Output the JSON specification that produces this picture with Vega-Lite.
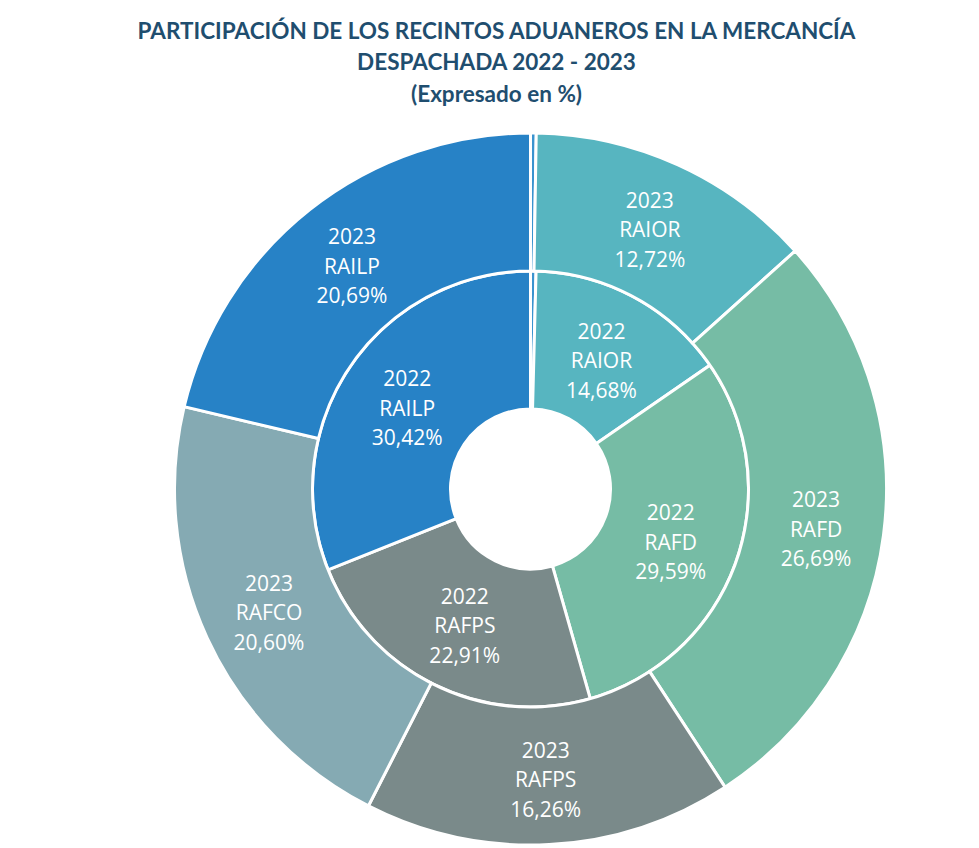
{
  "$schema": "https://vega.github.io/schema/vega-lite/v6.json",
  "width": 897,
  "height": 718,
  "autosize": {"type": "none"},
  "padding": {"left": 82, "top": 130, "right": 0, "bottom": 0},
  "background": "white",
  "title": {
    "text": ["PARTICIPACIÓN DE LOS RECINTOS ADUANEROS EN LA MERCANCÍA", "DESPACHADA 2022 - 2023", "(Expresado en %)"],
    "font": "Lato",
    "fontSize": 22.5,
    "fontWeight": "bold",
    "color": "#1f4e6f",
    "lineHeight": 31.5,
    "anchor": "middle",
    "dx": -34,
    "offset": 21
  },
  "config": {"view": {"stroke": null}},
  "data": {
    "values": [
      {"ring": "2022", "name": "Otros", "value": 0.4, "ord": 0},
      {"ring": "2022", "name": "RAIOR", "value": 14.68, "ord": 1},
      {"ring": "2022", "name": "RAFD", "value": 29.59, "ord": 2},
      {"ring": "2022", "name": "RAFPS", "value": 22.91, "ord": 3},
      {"ring": "2022", "name": "RAILP", "value": 30.42, "ord": 5},
      {"ring": "2023", "name": "Otros", "value": 0.25, "ord": 0},
      {"ring": "2023", "name": "RAIOR", "value": 12.72, "ord": 1},
      {"ring": "2023", "name": "RAFD", "value": 26.69, "ord": 2},
      {"ring": "2023", "name": "RAFPS", "value": 16.26, "ord": 3},
      {"ring": "2023", "name": "RAFCO", "value": 20.60, "ord": 4},
      {"ring": "2023", "name": "RAILP", "value": 20.69, "ord": 5}
    ]
  },
  "transform": [
    {"calculate": "datum.name == 'Otros' ? '' : datum.ring + '\\n' + datum.name + '\\n' + replace(format(datum.value, '.2f'), '.', ',') + '%'", "as": "label"}
  ],
  "encoding": {
    "theta": {"field": "value", "type": "quantitative", "stack": "normalize"},
    "order": {"field": "ord", "type": "quantitative"}
  },
  "layer": [
    {
      "transform": [{"filter": "datum.ring == '2022'"}],
      "mark": {"type": "arc", "radius": 218, "radius2": 80, "stroke": "white", "strokeWidth": 3},
      "encoding": {
        "color": {
          "field": "name", "type": "nominal", "legend": null,
          "scale": {"domain": ["Otros", "RAIOR", "RAFD", "RAFPS", "RAFCO", "RAILP"],
                    "range": ["#3a93cf", "#57b5c0", "#76bca5", "#7a8a8a", "#85aab3", "#2782c6"]}
        }
      }
    },
    {
      "transform": [{"filter": "datum.ring == '2023'"}],
      "mark": {"type": "arc", "radius": 356, "radius2": 218, "stroke": "white", "strokeWidth": 3},
      "encoding": {
        "color": {"field": "name", "type": "nominal", "legend": null}
      }
    },
    {
      "transform": [{"filter": "datum.ring == '2022'"}],
      "mark": {"type": "text", "radius": 149, "dy": -25, "font": "Open Sans", "fontSize": 21, "lineHeight": 29.5, "lineBreak": "\n", "align": "center", "baseline": "middle", "color": "white"},
      "encoding": {"text": {"field": "label"}}
    },
    {
      "transform": [{"filter": "datum.ring == '2023'"}],
      "mark": {"type": "text", "radius": 288, "dy": -25, "font": "Open Sans", "fontSize": 21, "lineHeight": 29.5, "lineBreak": "\n", "align": "center", "baseline": "middle", "color": "white"},
      "encoding": {"text": {"field": "label"}}
    }
  ]
}
